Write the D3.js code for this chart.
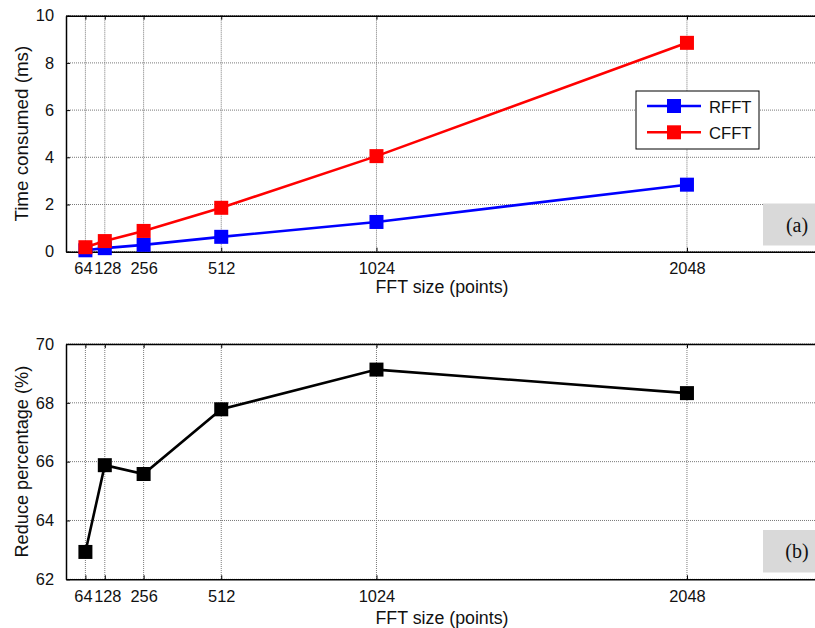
<!DOCTYPE html>
<html><head><meta charset="utf-8">
<script src="https://cdn.jsdelivr.net/npm/d3@7"></script>
<style>body{margin:0;background:#fff}svg{display:block}</style>
</head><body>
<svg id="c" width="815" height="628"></svg>
<script>
const sizes = [64, 128, 256, 512, 1024, 2048];
const rfft = [0.06, 0.15, 0.29, 0.63, 1.26, 2.84];
const cfft = [0.19, 0.45, 0.88, 1.86, 4.05, 8.85];
const reduce = [62.93, 65.88, 65.58, 67.78, 69.13, 68.33];
const xTicks = [64, 128, 256, 512, 1024, 2048];
const yTicksTop = [0, 2, 4, 6, 8, 10];
const yTicksBot = [62, 64, 66, 68, 70];
const seriesNames = ["RFFT", "CFFT"];
const seriesColors = ["#0000ff", "#ff0000"];

const svg = d3.select("#c");
const font = "'Liberation Sans', Arial, Helvetica, sans-serif";
const L = 66, R = 824;
const x = d3.scaleLinear().domain([0, 2500]).range([L, R]);

// find a font size whose rendered width matches a width
function fitSize(str, target, base) {
  const t = svg.append("text").attr("font-family", font).attr("font-size", base).text(str);
  const w = t.node().getComputedTextLength();
  t.remove();
  return w > 0 ? base * target / w : base;
}
const tickFs = fitSize("2048", 36.5, 16);
const xlabFs = fitSize("FFT size (points)", 133, 16);
const ylabFsA = fitSize("Time consumed (ms)", 176, 16);
const ylabFsB = fitSize("Reduce percentage (%)", 192, 16);
const legFs = fitSize("RFFT", 42.5, 16);

function panel(top, bottom, yDomain, yTicks, ylabel, ylabFs, xlabOff) {
  const y = d3.scaleLinear().domain(yDomain).range([bottom, top]);
  const g = svg.append("g");
  g.selectAll(".gx").data(xTicks).enter().append("line")
    .attr("x1", d => x(d)).attr("x2", d => x(d)).attr("y1", top).attr("y2", bottom)
    .attr("stroke", "#7a7a7a").attr("stroke-width", 1).attr("stroke-dasharray", "1,1");
  g.selectAll(".gy").data(yTicks).enter().append("line")
    .attr("x1", L).attr("x2", R).attr("y1", d => y(d)).attr("y2", d => y(d))
    .attr("stroke", "#7a7a7a").attr("stroke-width", 1).attr("stroke-dasharray", "1,1");
  const ax = d3.axisBottom(x).tickValues(xTicks).tickFormat(d3.format("d")).tickSizeInner(-4).tickSizeOuter(0);
  const axG = g.append("g").attr("transform", `translate(0,${bottom})`).call(ax);
  axG.select(".domain").attr("stroke", "#000").attr("stroke-width", 1.5);
  axG.selectAll("text").attr("font-family", font).attr("font-size", tickFs).attr("fill", "#111")
    .attr("y", 22.8).attr("dy", 0)
    .attr("dx", d => d === 64 ? -2.5 : d === 128 ? 2.5 : 0);
  axG.selectAll(".tick line").attr("stroke", "#000");
  const axT = d3.axisTop(x).tickValues(xTicks).tickSizeInner(-4).tickSizeOuter(0).tickFormat("");
  const atG = g.append("g").attr("transform", `translate(0,${top})`).call(axT);
  atG.select(".domain").attr("stroke", "#000").attr("stroke-width", 1.5);
  atG.selectAll(".tick line").attr("stroke", "#000");
  const ay = d3.axisLeft(y).tickValues(yTicks).tickSizeInner(-4).tickSizeOuter(0).tickPadding(12);
  const ayG = g.append("g").attr("transform", `translate(${L},0)`).call(ay);
  ayG.select(".domain").attr("stroke", "#000").attr("stroke-width", 1.5);
  ayG.selectAll("text").attr("font-family", font).attr("font-size", tickFs).attr("fill", "#111");
  ayG.selectAll(".tick line").attr("stroke", "#000");
  g.append("text").attr("transform", `translate(28,${(top + bottom) / 2}) rotate(-90)`)
    .attr("text-anchor", "middle").attr("font-family", font).attr("font-size", ylabFs).attr("fill", "#111").text(ylabel);
  g.append("text").attr("x", 442).attr("y", bottom + xlabOff)
    .attr("text-anchor", "middle").attr("font-family", font).attr("font-size", xlabFs).attr("fill", "#111").text("FFT size (points)");
  return {g, y};
}

const lineW = 2.6, ms = 14;
function series(p, vals, color) {
  const pts = sizes.map((s, i) => [s, vals[i]]);
  p.g.append("path").datum(pts)
    .attr("d", d3.line().x(d => x(d[0])).y(d => p.y(d[1])))
    .attr("fill", "none").attr("stroke", color).attr("stroke-width", lineW);
  p.g.selectAll(null).data(pts).enter().append("rect")
    .attr("x", d => x(d[0]) - ms / 2).attr("y", d => p.y(d[1]) - ms / 2)
    .attr("width", ms).attr("height", ms).attr("fill", color);
}

function tagBox(p, top, bottom, label) {
  p.g.append("rect").attr("x", 763).attr("y", top).attr("width", 60).attr("height", bottom - top).attr("fill", "#d9d9d9");
  p.g.append("text").attr("x", 797).attr("y", (top + bottom) / 2 + 7).attr("text-anchor", "middle")
    .attr("font-family", "'Liberation Serif', 'Times New Roman', serif").attr("font-size", 20).attr("fill", "#111").text(label);
}

// Panel (a)
const pa = panel(15.7, 251.7, [0, 10], yTicksTop, "Time consumed (ms)", ylabFsA, 41.6);
tagBox(pa, 203.5, 245.5, "(a)");
series(pa, rfft, seriesColors[0]);
series(pa, cfft, seriesColors[1]);
const lg = pa.g.append("g");
lg.append("rect").attr("x", 636).attr("y", 91).attr("width", 123).attr("height", 58)
  .attr("fill", "#fff").attr("stroke", "#000").attr("stroke-width", 1);
seriesNames.forEach((n, i) => {
  const yy = 106 + i * 26.3;
  lg.append("line").attr("x1", 647).attr("x2", 701).attr("y1", yy).attr("y2", yy)
    .attr("stroke", seriesColors[i]).attr("stroke-width", lineW);
  lg.append("rect").attr("x", 674 - ms / 2).attr("y", yy - ms / 2).attr("width", ms).attr("height", ms).attr("fill", seriesColors[i]);
  lg.append("text").attr("x", 709).attr("y", yy + 6.5).attr("font-family", font).attr("font-size", legFs).attr("fill", "#111").text(n);
});

// Panel (b)
const pb = panel(344, 579.3, [62, 70], yTicksBot, "Reduce percentage (%)", ylabFsB, 45);
tagBox(pb, 530, 572.5, "(b)");
series(pb, reduce, "#000");
</script>
</body></html>
